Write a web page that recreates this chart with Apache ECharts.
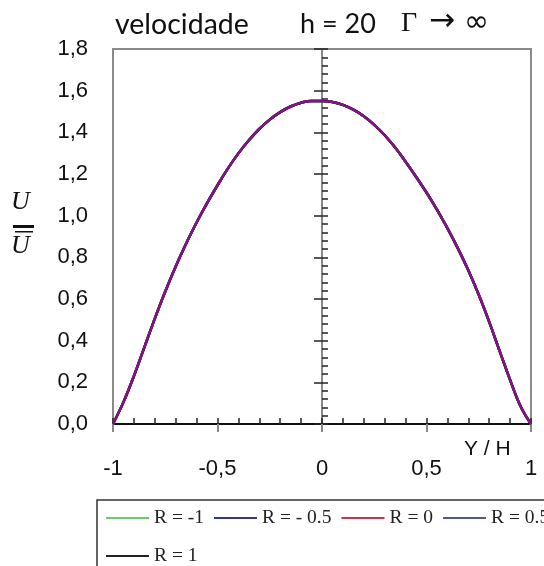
<!DOCTYPE html>
<html>
<head>
<meta charset="utf-8">
<script src="https://cdn.jsdelivr.net/npm/echarts@6/dist/echarts.min.js"></script>
<style>
  html, body { margin: 0; padding: 0; background: #fff; }
  #chart { width: 544px; height: 566px; }
</style>
</head>
<body>
<div id="chart"></div>
<script>
// Transverse position Y/H across the channel
const yPos = [-1, -0.95, -0.9, -0.85, -0.8, -0.75, -0.7, -0.65, -0.6, -0.55, -0.5,
              -0.45, -0.4, -0.35, -0.3, -0.25, -0.2, -0.15, -0.1, -0.05, 0,
              0.05, 0.1, 0.15, 0.2, 0.25, 0.3, 0.35, 0.4, 0.45, 0.5,
              0.55, 0.6, 0.65, 0.7, 0.75, 0.8, 0.85, 0.9, 0.95, 1];
// Normalised velocity U / Ū (all R values give the same profile)
const uProfile = [0, 0.105, 0.230, 0.368, 0.506, 0.636, 0.756, 0.866, 0.967, 1.060, 1.146,
                  1.227, 1.299, 1.362, 1.416, 1.461, 1.497, 1.524, 1.542, 1.551, 1.551,
                  1.546, 1.532, 1.509, 1.477, 1.436, 1.386, 1.327, 1.259, 1.187, 1.111,
                  1.029, 0.940, 0.843, 0.738, 0.620, 0.490, 0.350, 0.212, 0.085, 0];
const seriesNames = ['R = -1', 'R = - 0.5', 'R = 0', 'R = 0.5', 'R = 1'];
const legendColors = ['#66cc66', '#333399', '#cc3344', '#55558f', '#222222'];

const profile = yPos.map((y, i) => [y, uProfile[i]]);
const comma = v => String(v).replace('.', ',');

// draw order: the R = 0.5 curve ends up on top
const drawOrder = [0, 1, 2, 4, 3];
const series = drawOrder.map((k, n) => ({
  name: seriesNames[k],
  type: 'line',
  data: profile,
  smooth: 0.4,
  symbol: 'none',
  z: 5 + n,
  itemStyle: { color: legendColors[k] },
  lineStyle: { color: k === 3 ? '#7f1486' : legendColors[k], width: 2.5 }
}));

const chart = echarts.init(document.getElementById('chart'), null, { renderer: 'canvas' });
const ft = '"Liberation Sans"';
const titleStyle = (family, size) => ({ fontFamily: family, fontWeight: 'normal', fontSize: size, color: '#111' });
chart.setOption({
  animation: false,
  backgroundColor: '#ffffff',
  title: [
    { text: 'velocidade', left: 110, top: 5, textStyle: titleStyle('Lato', 28.5) },
    { text: 'h = 20', left: 295, top: 6, textStyle: titleStyle('Lato', 27) },
    { text: 'Γ', left: 396, top: 5, textStyle: titleStyle('Liberation Serif', 28) },
    { text: '→', left: 424, top: 1, textStyle: titleStyle('DejaVu Sans', 31) },
    { text: '∞', left: 459, top: 3, textStyle: titleStyle('DejaVu Sans', 30) }
  ],
  grid: {
    left: 113, right: 13, top: 49, bottom: 142,
    show: true, borderColor: '#8a8a8a', borderWidth: 2, backgroundColor: 'transparent'
  },
  legend: {
    data: seriesNames,
    left: 97, top: 500, width: 452,
    orient: 'horizontal',
    padding: [4, 30, 12, 9],
    itemGap: 10,
    itemWidth: 43, itemHeight: 2,
    icon: 'rect',
    itemStyle: { borderWidth: 0 },
    borderColor: '#333', borderWidth: 1.5,
    textStyle: { fontFamily: 'Liberation Serif', fontSize: 19.5, color: '#222', lineHeight: 28, height: 28 }
  },
  xAxis: [
    {
      type: 'value', min: -1, max: 1, interval: 0.5, position: 'bottom',
      axisLine: { show: true, onZero: false, lineStyle: { color: '#111', width: 2 } },
      axisTick: { show: true, inside: false, length: 8, lineStyle: { color: '#888', width: 2 } },
      axisLabel: { margin: 34, fontFamily: ft, fontSize: 22, color: '#111',
                   formatter: v => comma(v) },
      splitLine: { show: false }
    },
    {
      type: 'value', min: -1, max: 1, interval: 0.1, position: 'bottom',
      axisLine: { show: false, onZero: false },
      axisTick: { show: true, inside: true, length: 6, lineStyle: { color: '#222', width: 1.5 } },
      axisLabel: { show: false },
      splitLine: { show: false }
    }
  ],
  yAxis: [
    {
      type: 'value', min: 0, max: 1.8, interval: 0.2, position: 'left',
      axisLine: { show: false },
      axisTick: { show: false },
      axisLabel: { margin: 25, fontFamily: ft, fontSize: 22, color: '#111', padding: [5, 0, 0, 0],
                   formatter: v => v.toFixed(1).replace('.', ',') },
      splitLine: { show: false }
    },
    {
      type: 'value', min: 0, max: 1.8, interval: 0.2, position: 'left', offset: -209,
      axisLine: { show: true, onZero: false, lineStyle: { color: '#888', width: 2 } },
      axisTick: { show: true, inside: false, length: 8, lineStyle: { color: '#222', width: 1.5 } },
      axisLabel: { show: false },
      splitLine: { show: false }
    },
    {
      type: 'value', min: 0, max: 1.8, interval: 0.04, position: 'left', offset: -209,
      axisLine: { show: false, onZero: false },
      axisTick: { show: true, inside: true, length: 6, lineStyle: { color: '#222', width: 1.5 } },
      axisLabel: { show: false },
      splitLine: { show: false }
    }
  ],
  graphic: [
    { type: 'text', left: 11, top: 189, style: { text: 'U', font: 'italic 26px "Liberation Serif"', fill: '#111' } },
    { type: 'rect', shape: { x: 13, y: 225, width: 21, height: 3 }, style: { fill: '#111' } },
    { type: 'rect', shape: { x: 15, y: 231, width: 18, height: 1.5 }, style: { fill: '#111' } },
    { type: 'text', left: 11, top: 233, style: { text: 'U', font: 'italic 26px "Liberation Serif"', fill: '#111' } },
    { type: 'text', left: 464, top: 439, style: { text: 'Y / H', font: '21px "Liberation Sans"', fill: '#111' } }
  ],
  series: series
});
</script>
</body>
</html>
